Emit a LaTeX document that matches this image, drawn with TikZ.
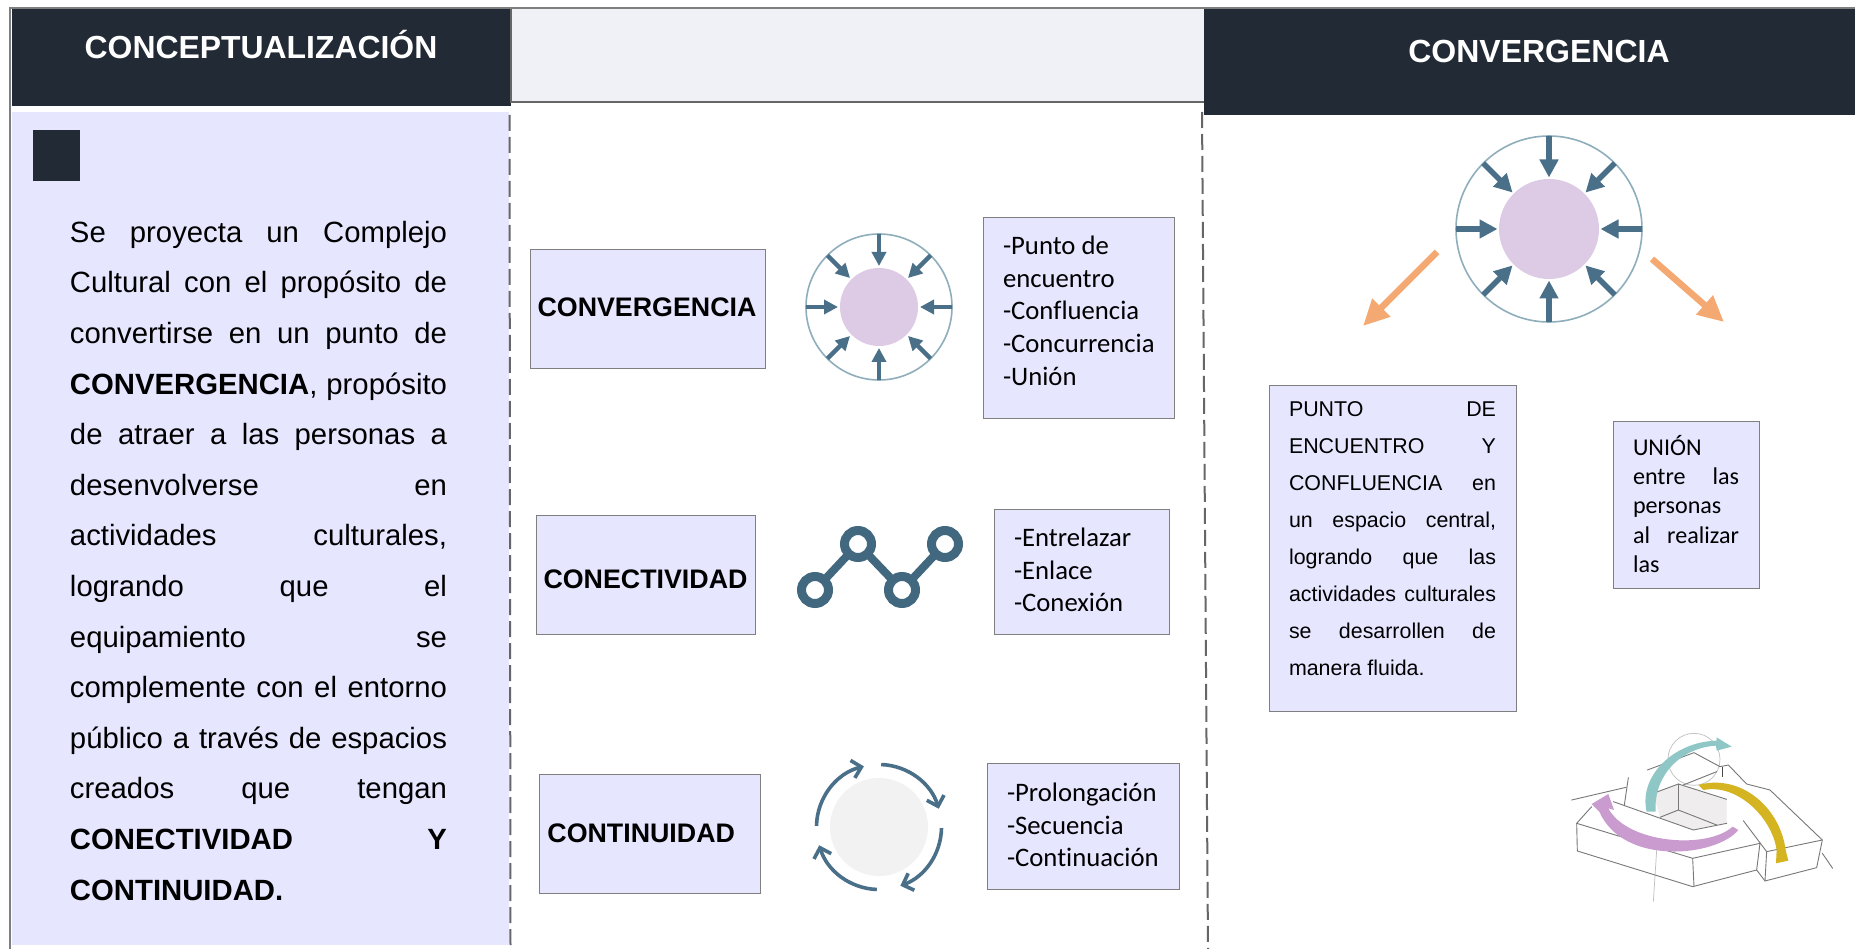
\documentclass[tikz,border=0pt]{standalone}
\usepackage{fontspec}
\setmainfont{Liberation Sans}
\newfontfamily\calibri[Ligatures=NoCommon]{Carlito}
\usetikzlibrary{arrows.meta,calc}
\definecolor{headdark}{HTML}{222A35}
\definecolor{lav}{HTML}{E6E6FF}
\definecolor{bandgrey}{HTML}{F0F1F6}
\definecolor{edgegrey}{HTML}{7F7F7F}
\definecolor{dashgrey}{HTML}{666666}
\definecolor{iconblue}{HTML}{4A7089}
\definecolor{iconring}{HTML}{8FAEBC}
\definecolor{linkblue}{HTML}{41687F}
\definecolor{pinkdisc}{HTML}{DDCBE5}
\definecolor{discgrey}{HTML}{F2F2F2}
\definecolor{orangearrow}{HTML}{F4A973}
\definecolor{sketchline}{HTML}{787878}
\definecolor{skteal}{HTML}{8FC6C6}
\definecolor{skpurple}{HTML}{C99BCF}
\definecolor{skgold}{HTML}{D4B420}
\definecolor{skwall}{HTML}{EFEDEE}
\setlength{\parindent}{0pt}
\setlength{\parskip}{0pt}
% one justified line: the spaces take all that is left
\newcommand\jl[1]{\hbox to \linewidth{\spaceskip=0pt plus 1fil\relax #1}}
\newcommand\convicon[7]{%
  \begin{scope}[shift={(#1,#2)}]
    \fill[pinkdisc] (0,0) circle[radius=#4pt];
    \draw[iconring,line width=1.6pt] (0,0) circle[radius=#3pt];
    \foreach \a in {0,45,...,315}{%
      \draw[iconblue,line width=#5pt,-{Triangle[length=#6pt,width=#6pt]}] (\a:#3pt) -- (\a:#7pt);}
  \end{scope}}
\tikzset{
  header/.style={fill=headdark,text=white,anchor=north west,inner sep=0pt,outer sep=0pt},
  conceptbox/.style={fill=lav,draw=edgegrey,line width=.9pt,anchor=north west,inner sep=0pt,outer sep=0pt,text depth=0pt,font=\fontsize{26.8}{32}\selectfont\bfseries},
  listbox/.style={fill=lav,draw=edgegrey,line width=.9pt,anchor=north west,inner ysep=0pt,inner xsep=20pt,outer sep=0pt},
  dashline/.style={dashgrey,line width=2pt,dash pattern=on 16pt off 6pt},
  frameline/.style={edgegrey,line width=2pt},
  outarrow/.style={orangearrow,line width=6.5pt,-{Triangle[length=26pt,width=24pt]}},
  skline/.style={sketchline,line width=.9pt,line join=round,line cap=round},
}
\begin{document}
\begin{tikzpicture}[x=1pt,y=-1pt]
\useasboundingbox (0,0) rectangle (1855,949);
\fill[white] (0,0) rectangle (1855,949);
% frame
\coordinate (ftl) at (10,8); \coordinate (fbl) at (10,949); \coordinate (ftr) at (1855,8);
\draw[frameline] (fbl) -- (ftl) -- (ftr);
% headers
\node[header,minimum width=499pt,minimum height=97pt] (hl) at (12,9) {};
\node[white,font=\fontsize{31.9}{38}\selectfont\bfseries,anchor=base] (hltxt) at (261,59) {CONCEPTUALIZACIÓN};
\node[fill=bandgrey,anchor=north west,minimum width=693pt,minimum height=93pt,inner sep=0pt,outer sep=0pt] (band) at (511,9) {};
\draw[dashgrey,line width=1.6pt] (band.north west) -- (band.south west) -- (band.south east);
\node[header,minimum width=651pt,minimum height=106pt] (hr) at (1204,9) {};
\node[white,font=\fontsize{32}{38}\selectfont\bfseries,anchor=base] (hrtxt) at (1539,63) {CONVERGENCIA};
% left panel
\node[fill=lav,anchor=north west,inner sep=0pt,outer sep=0pt] (panel) at (12,112) {%
  \begin{minipage}[c][833pt][t]{497pt}%
  \vspace*{109pt}\hspace*{58pt}\parbox[t]{377pt}{\fontsize{29.3}{50.6}\selectfont
    \jl{Se proyecta un Complejo}
    \jl{Cultural con el propósito de}
    \jl{convertirse en un punto de}
    \jl{\textbf{CONVERGENCIA}, propósito}
    \jl{de atraer a las personas a}
    \jl{desenvolverse en}
    \jl{actividades culturales,}
    \jl{logrando que el}
    \jl{equipamiento se}
    \jl{complemente con el entorno}
    \jl{público a través de espacios}
    \jl{creados que tengan}
    \jl{\textbf{CONECTIVIDAD Y}}
    \hbox{\textbf{CONTINUIDAD.}}}%
  \end{minipage}};
\node[fill=headdark,anchor=north west,minimum width=47pt,minimum height=51pt,inner sep=0pt] (sq) at (33,130) {};
% dashed separators
\coordinate (dl1) at (509.5,115); \coordinate (dl2) at (510.5,949);
\coordinate (dr1) at (1202,112); \coordinate (dr2) at (1208,949);
\draw[dashline] (dl1) -- (dl2);
\draw[dashline] (dr1) -- (dr2);
% concept boxes
\node[conceptbox,minimum width=235pt,minimum height=119pt,text height=15.4pt] (c1) at (530,249.4) {\hspace*{-1pt}CONVERGENCIA};
\node[conceptbox,minimum width=219pt,minimum height=119pt,text height=27.2pt] (c2) at (536,515.4) {CONECTIVIDAD};
\node[conceptbox,minimum width=221pt,minimum height=119pt,text height=17.8pt] (c3) at (539,774.4) {\hspace*{-16.6pt}CONTINUIDAD};
% list boxes
\node[listbox] (l1) at (983,217.4) {\begin{minipage}[c][201pt][t]{151pt}\calibri\fontsize{26.7}{32.7}\selectfont\vspace*{18.6pt}
  -Punto de\\encuentro\\-Confluencia\\-Concurrencia\\-Unión\end{minipage}};
\node[listbox] (l2) at (994,509.4) {\begin{minipage}[c][125pt][t]{135pt}\calibri\fontsize{26.7}{32.7}\selectfont\vspace*{18.6pt}
  -Entrelazar\\-Enlace\\-Conexión\end{minipage}};
\node[listbox] (l3) at (987,763.4) {\begin{minipage}[c][126pt][t]{152pt}\calibri\fontsize{26.7}{32.7}\selectfont\vspace*{19.4pt}
  -Prolongación\\-Secuencia\\-Continuación\end{minipage}};
\node[listbox] (l4) at (1269,385.4) {\begin{minipage}[c][326pt][t]{207pt}\fontsize{21.4}{36.9}\selectfont\vspace*{16.4pt}
  \jl{PUNTO DE}
  \jl{ENCUENTRO Y}
  \jl{CONFLUENCIA en}
  \jl{un espacio central,}
  \jl{logrando que las}
  \jl{actividades culturales}
  \jl{se desarrollen de}
  \hbox{manera fluida.}\end{minipage}};
\node[listbox] (l5) at (1613,421.4) {\begin{minipage}[c][167pt][t]{106pt}\calibri\fontsize{24.1}{29.3}\selectfont\vspace*{13.6pt}
  \hbox{UNIÓN}
  \jl{entre las}
  \hbox{personas}
  \jl{al realizar}
  \hbox{las}\end{minipage}};
% convergence icons
\convicon{879}{307}{73}{39}{4.4}{14}{41}
\convicon{1549}{229}{93}{50}{5.6}{18}{51.5}
% orange arrows
\coordinate (oa1) at (1437,252); \coordinate (oa2) at (1363,326);
\coordinate (ob1) at (1652,259); \coordinate (ob2) at (1724,322);
\draw[outarrow] (oa1) -- (oa2);
\draw[outarrow] (ob1) -- (ob2);
% connectivity icon
\begin{scope}[linkblue,line width=8pt]
  \coordinate (n1) at (815,590); \coordinate (n2) at (858,544);
  \coordinate (n3) at (902,590); \coordinate (n4) at (945,544);
  \draw (n1) -- (n2) -- (n3) -- (n4);
  \foreach \n in {n1,n2,n3,n4}{\draw[line width=9pt,fill=white] (\n) circle[radius=13.5pt];}
\end{scope}
% continuity icon
\begin{scope}[shift={(879,827)}]
  \fill[discgrey] (0,0) circle[radius=49pt];
  \begin{scope}[iconblue,line width=3.6pt,-{Straight Barb[length=9pt,width=18pt]}]
    \draw (88:62.5pt) arc[start angle=88,end angle=17,radius=62.5pt];
    \draw (-1:62.5pt) arc[start angle=-1,end angle=-70,radius=62.5pt];
    \draw (-92:62.5pt) arc[start angle=-92,end angle=-163,radius=62.5pt];
    \draw (179:62.5pt) arc[start angle=179,end angle=104,radius=62.5pt];
  \end{scope}
\end{scope}
% sketch
\begin{scope}[shift={(1540,710)},x=.3333pt,y=-.3333pt]
  \fill[skwall] (340,250) -- (415,222) -- (560,268) -- (560,340) -- (460,360) -- (360,322) -- cycle;
  \draw[lightgray,line width=.7pt] (462,148) circle[radius=26pt];
  \draw[lightgray,line width=.7pt] (350,420) -- (340,575);
  \begin{scope}[skline]
    \draw (95,270) -- (258,232);
    \draw (265,203) -- (253,285);
    \draw (155,290) -- (110,340) -- (112,423) -- (458,530) -- (650,480) -- (675,513) -- (830,473) -- (847,390) -- (690,240) -- (620,222) -- (565,165) -- (540,170);
    \draw (110,340) -- (458,445) -- (462,530);
    \draw (458,445) -- (660,400) -- (650,480);
    \draw (610,332) -- (680,425) -- (675,513);
    \draw (680,425) -- (847,390);
    \draw (847,430) -- (878,475);
    \draw (220,275) -- (460,360) -- (560,340);
    \draw (360,322) -- (415,300) -- (530,345);
    \draw (340,250) -- (415,222) -- (560,268);
    \draw (415,222) -- (415,300);
    \draw (322,180) -- (462,128) -- (540,170);
    \draw (430,225) -- (530,185);
  \end{scope}
  \draw[sketchline!60!black,line width=1.2pt] (548,170) -- (548,200);
  \fill[skteal] (320,305) .. controls (295,200) and (400,95) .. (530,92) -- (530,82) -- (575,110) -- (530,122) -- (528,107) .. controls (430,112) and (340,190) .. (347,305) -- cycle;
  \fill[skpurple] (595,360) .. controls (530,440) and (250,470) .. (178,305) -- (155,282) -- (205,252) -- (222,300) -- (205,295) .. controls (260,400) and (500,420) .. (578,350) -- cycle;
  \fill[skgold] (475,225) .. controls (600,190) and (720,290) .. (737,420) -- (745,452) -- (708,460) -- (710,420) .. controls (695,320) and (590,220) .. (490,240) -- cycle;
\end{scope}
\end{tikzpicture}
\end{document}
